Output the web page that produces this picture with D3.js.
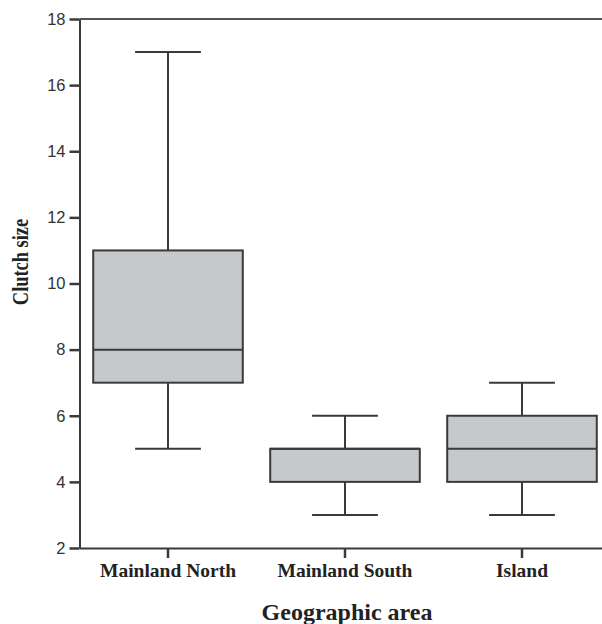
<!DOCTYPE html>
<html>
<head>
<meta charset="utf-8">
<script src="https://cdn.jsdelivr.net/npm/d3@7"></script>
<style>
  body { margin: 0; background: #fff; }
  svg { display: block; }
</style>
</head>
<body>
<svg id="chart" width="602" height="624"></svg>
<script>
// box plot summaries
const areas = ["Mainland North", "Mainland South", "Island"];
const whiskerLow = [5, 3, 3];
const q1 = [7, 4, 4];
const medians = [8, 5, 5];
const q3 = [11, 5, 6];
const whiskerHigh = [17, 6, 7];
const yTicks = [2, 4, 6, 8, 10, 12, 14, 16, 18];

const data = areas.map((a, i) => ({
  area: a, lo: whiskerLow[i], q1: q1[i], med: medians[i], q3: q3[i], hi: whiskerHigh[i]
}));

const svg = d3.select("#chart");
const ink = "#3a3a3a";

const x = d3.scaleBand()
  .domain(areas)
  .range([79.5, 610.5])
  .padding(0);

const y = d3.scaleLinear()
  .domain([2, 18])
  .range([548, 19]);

const boxW = x.bandwidth() * 0.845;
const capW = boxW * 0.44;

// top frame line
svg.append("line")
  .attr("x1", 79.5).attr("x2", 602)
  .attr("y1", y(18)).attr("y2", y(18))
  .attr("stroke", "#555").attr("stroke-width", 2);

// y axis
const yAxis = svg.append("g")
  .attr("transform", "translate(79.5,0)")
  .call(d3.axisLeft(y).tickValues(yTicks).tickSize(10).tickPadding(4).tickSizeOuter(0));
yAxis.select(".domain").attr("stroke", ink).attr("stroke-width", 2);
yAxis.selectAll(".tick line").attr("stroke", ink).attr("stroke-width", 2.5);
yAxis.selectAll(".tick text")
  .attr("fill", "#333")
  .style("font-family", "Liberation Sans, Arial, sans-serif")
  .style("font-size", "16.5px");

// x axis
const xAxis = svg.append("g")
  .attr("transform", `translate(0,${y(2)})`)
  .call(d3.axisBottom(x).tickSize(10).tickPadding(5).tickSizeOuter(0));
xAxis.select(".domain").attr("stroke", ink).attr("stroke-width", 2);
xAxis.selectAll(".tick line").attr("stroke", ink).attr("stroke-width", 2.5);
xAxis.selectAll(".tick text")
  .attr("fill", "#222")
  .style("font-family", "Liberation Serif, Times New Roman, serif")
  .style("font-weight", "bold")
  .style("font-size", "19.5px");

// boxes
const g = svg.append("g");
data.forEach(d => {
  const cx = x(d.area) + x.bandwidth() / 2;
  // whiskers
  g.append("line")
    .attr("x1", cx).attr("x2", cx)
    .attr("y1", y(d.hi)).attr("y2", y(d.q3))
    .attr("stroke", ink).attr("stroke-width", 2);
  g.append("line")
    .attr("x1", cx).attr("x2", cx)
    .attr("y1", y(d.q1)).attr("y2", y(d.lo))
    .attr("stroke", ink).attr("stroke-width", 2);
  [d.hi, d.lo].forEach(v => {
    g.append("line")
      .attr("x1", cx - capW / 2).attr("x2", cx + capW / 2)
      .attr("y1", y(v)).attr("y2", y(v))
      .attr("stroke", ink).attr("stroke-width", 2);
  });
  g.append("rect")
    .attr("x", cx - boxW / 2)
    .attr("y", y(d.q3))
    .attr("width", boxW)
    .attr("height", y(d.q1) - y(d.q3))
    .attr("fill", "#c7c8ca")
    .attr("stroke", ink)
    .attr("stroke-width", 2);
  g.append("line")
    .attr("x1", cx - boxW / 2).attr("x2", cx + boxW / 2)
    .attr("y1", y(d.med)).attr("y2", y(d.med))
    .attr("stroke", ink).attr("stroke-width", 2);
});

// axis titles
svg.append("text")
  .attr("x", 347)
  .attr("y", 620)
  .attr("text-anchor", "middle")
  .style("font-family", "Liberation Serif, Times New Roman, serif")
  .style("font-weight", "bold")
  .style("font-size", "24px")
  .attr("fill", "#222")
  .text("Geographic area");

svg.append("text")
  .attr("transform", "translate(28,262) rotate(-90) scale(0.8,1)")
  .attr("text-anchor", "middle")
  .style("font-family", "Liberation Serif, Times New Roman, serif")
  .style("font-weight", "bold")
  .style("font-size", "23px")
  .attr("fill", "#222")
  .text("Clutch size");
</script>
</body>
</html>
